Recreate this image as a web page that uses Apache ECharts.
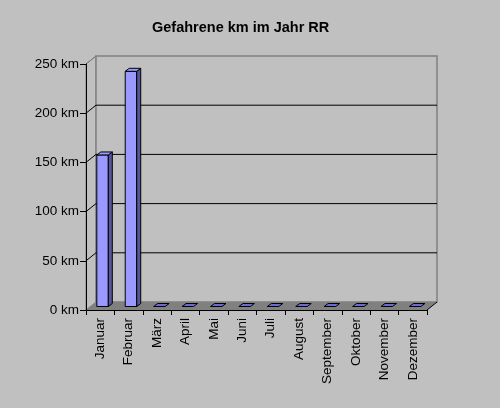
<!DOCTYPE html>
<html>
<head>
<meta charset="utf-8">
<script src="https://cdn.jsdelivr.net/npm/echarts@6/dist/echarts.min.js"></script>
<style>
html,body{margin:0;padding:0;background:#c0c0c0;}
#chart{width:500px;height:408px;}
</style>
</head>
<body>
<div id="chart"></div>
<script>
const titleText = 'Gefahrene km im Jahr RR';
const categories = ['Januar','Februar','März','April','Mai','Juni','Juli','August','September','Oktober','November','Dezember'];
const kmValues = [154, 239, 0, 0, 0, 0, 0, 0, 0, 0, 0, 0];
const yTicks = [0, 50, 100, 150, 200, 250];

const FONT = '"Liberation Sans", Arial, sans-serif';
const DX = 10, DY = -8;

const chart = echarts.init(document.getElementById('chart'), null, {renderer: 'canvas'});

function wallsItem(params, api) {
  const cs = params.coordSys;
  const x0 = cs.x, y0 = cs.y, w = cs.width, h = cs.height;
  return {
    type: 'group',
    children: [
      {type: 'polygon', shape: {points: [[x0, y0], [x0 + DX, y0 + DY], [x0 + DX, y0 + h + DY], [x0, y0 + h]]},
       style: {fill: '#c0c0c0', stroke: '#808080', lineWidth: 1}},
      {type: 'rect', shape: {x: x0 + DX, y: y0 + DY, width: w, height: h},
       style: {fill: '#c0c0c0', stroke: '#808080', lineWidth: 1.5}}
    ]
  };
}

function gridItem(params, api) {
  const cs = params.coordSys;
  const x0 = cs.x, w = cs.width;
  const v = api.value(1);
  const y = api.coord([0, v])[1];
  if (v === 0) return null;
  if (v === yTicks[yTicks.length - 1]) {
    return {type: 'line', shape: {x1: x0, y1: y, x2: x0 + DX, y2: y + DY},
            style: {stroke: '#808080', lineWidth: 1}};
  }
  return {type: 'polyline', shape: {points: [[x0, y], [x0 + DX, y + DY], [x0 + w + DX, y + DY]]},
          style: {stroke: '#000', lineWidth: 1, fill: null}};
}

function floorItem(params, api) {
  const cs = params.coordSys;
  const x0 = cs.x, y0 = cs.y, w = cs.width, h = cs.height;
  const yb = y0 + h;
  return {
    type: 'group',
    children: [
      {type: 'polygon', shape: {points: [[x0, yb], [x0 + DX, yb + DY], [x0 + w + DX, yb + DY], [x0 + w, yb]]},
       style: {fill: '#808080'}},
      {type: 'line', shape: {x1: x0 + w, y1: yb, x2: x0 + w + DX, y2: yb + DY},
       style: {stroke: '#000', lineWidth: 1}}
    ]
  };
}

function barItem(params, api) {
  const i = api.value(0), v = api.value(1);
  const top = api.coord([i, v]);
  const base = api.coord([i, 0]);
  const W = 11.5, SX = 4, SY = -3;
  const bx = base[0] - 3.4;
  const by = base[1] - 3.5;
  const ty = top[1] - 3.5;
  const children = [];
  if (by - ty > 0.5) {
    children.push({type: 'rect', shape: {x: bx, y: ty, width: W, height: by - ty},
                   style: {fill: '#9999ff', stroke: '#000', lineWidth: 1}});
    children.push({type: 'polygon', shape: {points: [[bx + W, ty], [bx + W + SX, ty + SY], [bx + W + SX, by + SY], [bx + W, by]]},
                   style: {fill: '#555599', stroke: '#000', lineWidth: 1}});
    children.push({type: 'polygon', shape: {points: [[bx, ty], [bx + SX, ty + SY], [bx + W + SX, ty + SY], [bx + W, ty]]},
                   style: {fill: '#9999ff', stroke: '#000', lineWidth: 1}});
  } else {
    children.push({type: 'polygon', shape: {points: [[bx, by], [bx + SX, by + SY], [bx + W + SX, by + SY], [bx + W, by]]},
                   style: {fill: '#6b6bd0', stroke: '#000', lineWidth: 1}});
  }
  return {type: 'group', children: children};
}

const option = {
  backgroundColor: '#c0c0c0',
  animation: false,
  title: {
    text: titleText,
    left: 147, top: 15,
    textStyle: {fontFamily: FONT, fontSize: 14.5, fontWeight: 'bold', color: '#000'}
  },
  grid: {left: 86, top: 64, width: 341, height: 246, containLabel: false},
  xAxis: {
    type: 'category',
    data: categories,
    boundaryGap: true,
    z: 10,
    axisLine: {show: true, lineStyle: {color: '#000', width: 1}},
    axisTick: {show: true, length: 5, alignWithLabel: false, lineStyle: {color: '#000'}},
    axisLabel: {rotate: 90, margin: 8, color: '#000', fontSize: 13.5, fontFamily: FONT, interval: 0},
    splitLine: {show: false}
  },
  yAxis: {
    type: 'value',
    min: yTicks[0], max: yTicks[yTicks.length - 1], interval: 50,
    z: 10,
    axisLine: {show: true, lineStyle: {color: '#000', width: 1}},
    axisTick: {show: true, length: 6, lineStyle: {color: '#000'}},
    axisLabel: {formatter: '{value} km', margin: 7, color: '#000', fontSize: 13.5, fontFamily: FONT},
    splitLine: {show: false}
  },
  series: [
    {type: 'custom', z: 1, silent: true, data: [[0, 0]], renderItem: wallsItem, clip: false},
    {type: 'custom', z: 2, silent: true, data: yTicks.map(v => [0, v]), renderItem: gridItem, clip: false},
    {type: 'custom', z: 3, silent: true, data: [[0, 0]], renderItem: floorItem, clip: false},
    {type: 'custom', z: 4, silent: true, data: categories.map((c, i) => [i, kmValues[i]]), renderItem: barItem, clip: false}
  ]
};
chart.setOption(option);
</script>
</body>
</html>
